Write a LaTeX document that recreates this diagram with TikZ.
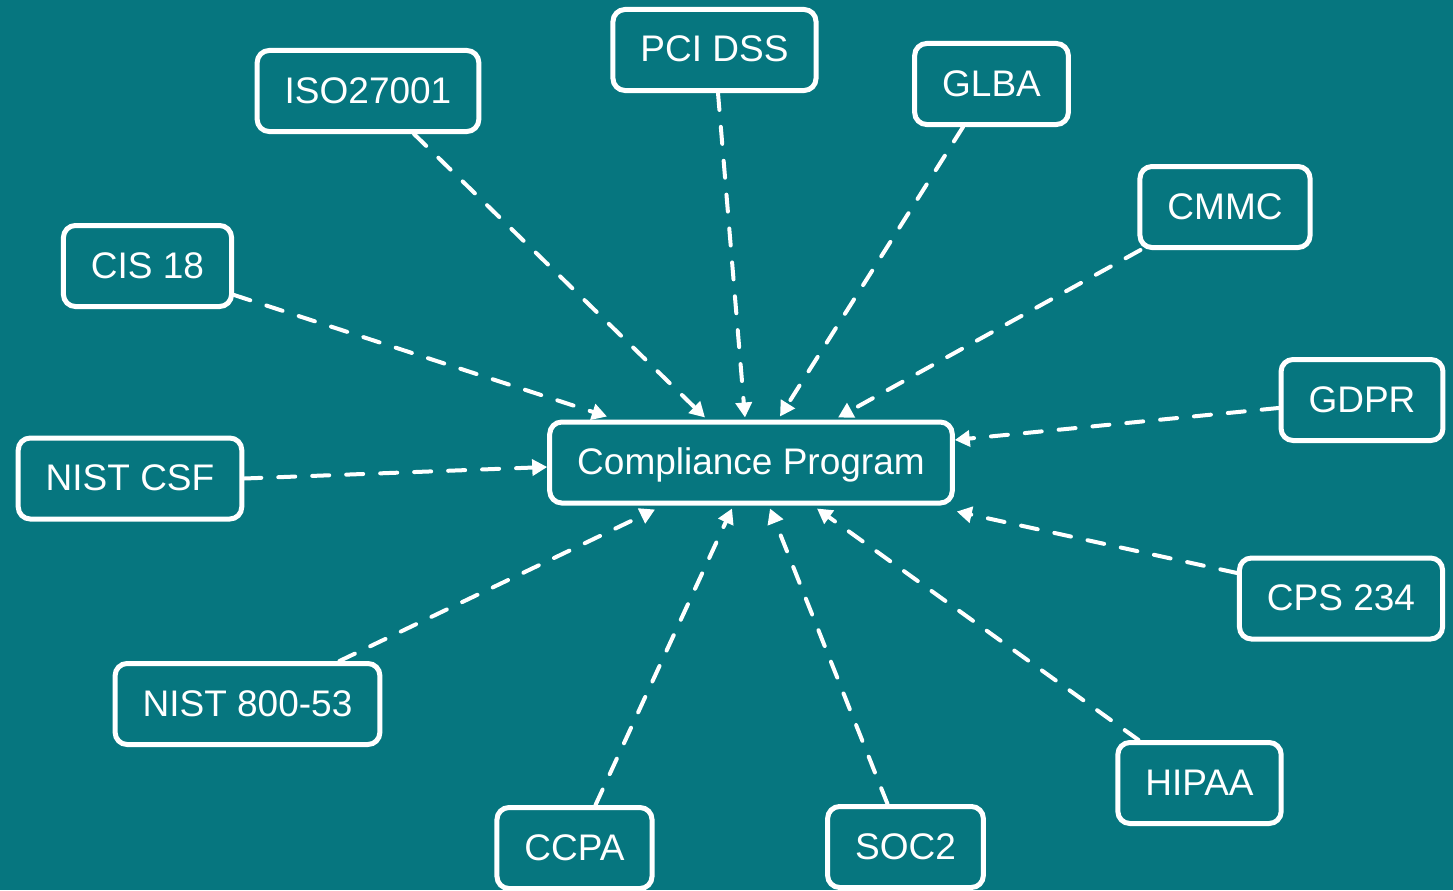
\documentclass[tikz,border=0pt]{standalone}
\usepackage{fontspec}
\setmainfont{Liberation Sans}
\usepackage{xcolor}
\usetikzlibrary{calc, arrows.meta}

\definecolor{bgteal}{RGB}{6,118,127}

\tikzset{
  frame/.style={draw=white, line width=5pt, rounded corners=12pt, fill=bgteal,
    text=white, font=\fontsize{37}{44}\selectfont, inner xsep=27.5pt, inner ysep=0pt,
    text height=26pt, text depth=2pt, minimum height=81pt},
  link/.style={draw=white, line width=4pt, line cap=round, dash pattern=on 17pt off 17pt,
    -{Triangle[length=15pt, width=16pt]}}
}

\begin{document}
\begin{tikzpicture}[x=1pt, y=-1pt]
    % background
    \fill[bgteal] (0,0) rectangle (1453,890);

    % the program in the middle
    \node[frame] (prog) at (751, 462.5) {Compliance Program};

    % the frameworks round it
    \node[frame] (iso)    at (368, 91)      {ISO27001};
    \node[frame] (pci)    at (714.5, 50)    {PCI DSS};
    \node[frame] (glba)   at (991.5, 84)    {GLBA};
    \node[frame] (cmmc)   at (1225, 207)    {CMMC};
    \node[frame] (cis)    at (147.5, 266)   {CIS 18};
    \node[frame] (gdpr)   at (1362, 400)    {GDPR};
    \node[frame] (csf)    at (130, 478.5)   {NIST CSF};
    \node[frame] (cps)    at (1341, 598.5)  {CPS 234};
    \node[frame] (nist)   at (247.5, 704)   {NIST 800-53};
    \node[frame] (hipaa)  at (1199.5, 783)  {HIPAA};
    \node[frame] (ccpa)   at (574.5, 848)   {CCPA};
    \node[frame] (soc)    at (905.5, 847)   {SOC2};

    % links into the program, top side
    \draw[link] ([xshift=46pt]iso.south)   -- ([xshift=-46pt, yshift=2pt]prog.north);
    \draw[link] ([xshift=3.5pt]pci.south)  -- ([xshift=-6pt, yshift=2pt]prog.north);
    \draw[link] ([xshift=-28.5pt]glba.south) -- ([xshift=29pt, yshift=3pt]prog.north);
    \draw[link] ([xshift=3pt]cmmc.south west) -- ([xshift=87pt, yshift=2pt]prog.north);
    \draw[link] ([yshift=-29pt]cis.east)   -- ([xshift=-144pt, yshift=3pt]prog.north);

    % left and right sides
    \draw[link] ([yshift=-8pt]gdpr.west)   -- ([yshift=22.5pt]prog.east);
    \draw[link] (csf.east)                 -- ([yshift=-4.5pt]prog.west);
    \draw[link] ([yshift=25.5pt]cps.west)  -- ([xshift=2pt, yshift=-6pt]prog.south east);

    % bottom side
    \draw[link] ([xshift=92pt]nist.north)  -- ([xshift=-96pt, yshift=-4pt]prog.south);
    \draw[link] ([xshift=-61pt]hipaa.north) -- ([xshift=66pt, yshift=-3pt]prog.south);
    \draw[link] ([xshift=21pt]ccpa.north)  -- ([xshift=-19pt, yshift=-3pt]prog.south);
    \draw[link] ([xshift=-18pt]soc.north)  -- ([xshift=19pt, yshift=-3pt]prog.south);
\end{tikzpicture}
\end{document}
